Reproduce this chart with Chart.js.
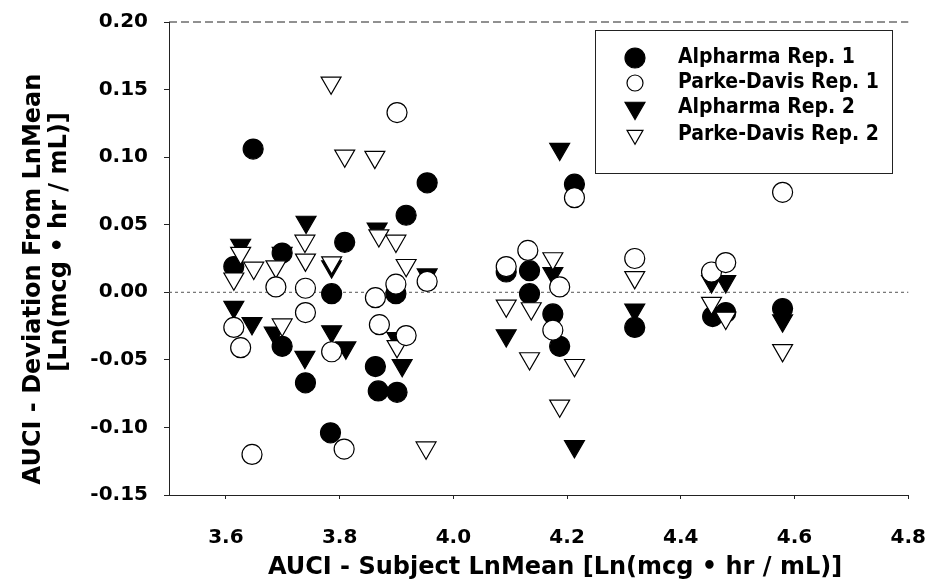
<!DOCTYPE html>
<html lang="en">
<head>
  <meta charset="UTF-8">
  <title>AUCI deviation from LnMean</title>
  <script src="https://cdn.jsdelivr.net/npm/chart.js@4.4.1/dist/chart.umd.min.js"></script>
  <style>
    body {
      margin: 0;
      background-color: #fff;
    }
    .chart-container {
      width: 931px;
      height: 586px;
    }
  </style>
</head>
<body>
  <div class="chart-container">
    <canvas id="devChart" width="931" height="586"></canvas>
  </div>
  <script>
    // values
    const alpharma1X = [3.648, 3.614, 3.699, 3.786, 3.809, 3.699, 3.740, 3.784, 3.863, 3.868, 3.901, 3.954, 3.917, 3.899,
      4.093, 4.134, 4.134, 4.175, 4.187, 4.213, 4.319, 4.456, 4.479, 4.579];
    const alpharma1Y = [0.106, 0.019, 0.029, -0.001, 0.037, -0.040, -0.067, -0.104, -0.055, -0.073, -0.074, 0.081, 0.057, -0.001,
      0.015, 0.016, -0.001, -0.016, -0.040, 0.080, -0.026, -0.018, -0.015, -0.012];

    const parke1X = [3.614, 3.626, 3.688, 3.740, 3.740, 3.786, 3.863, 3.870, 3.808, 3.646, 3.901, 3.954, 3.899, 3.917,
      4.093, 4.131, 4.187, 4.175, 4.213, 4.319, 4.454, 4.479, 4.579];
    const parke1Y = [-0.026, -0.041, 0.004, 0.003, -0.015, -0.044, -0.004, -0.024, -0.116, -0.120, 0.133, 0.008, 0.006, -0.032,
      0.019, 0.031, 0.004, -0.028, 0.070, 0.025, 0.015, 0.022, 0.074];

    const alpharma2X = [3.626, 3.741, 3.866, 3.786, 3.699, 3.614, 3.646, 3.685, 3.739, 3.786, 3.811, 3.901, 3.910, 3.954,
      4.187, 4.175, 4.093, 4.213, 4.319, 4.454, 4.479, 4.579];
    const alpharma2Y = [0.035, 0.052, 0.047, 0.019, 0.029, -0.011, -0.023, -0.030, -0.048, -0.029, -0.041, -0.034, -0.054, 0.013,
      0.106, 0.014, -0.032, -0.114, -0.013, 0.008, 0.008, -0.021];

    const parke2X = [3.785, 3.809, 3.862, 3.739, 3.626, 3.614, 3.649, 3.688, 3.740, 3.786, 3.869, 3.899, 3.917, 3.699, 3.901, 3.952,
      4.093, 4.137, 4.175, 4.134, 4.213, 4.187, 4.319, 4.454, 4.479, 4.579];
    const parke2Y = [0.155, 0.101, 0.100, 0.038, 0.029, 0.010, 0.018, 0.019, 0.024, 0.022, 0.042, 0.038, 0.020, -0.024, -0.040, -0.115,
      -0.010, -0.012, 0.025, -0.049, -0.054, -0.084, 0.011, -0.008, -0.019, -0.043];

    const seriesNames = ["Alpharma Rep. 1", "Parke-Davis Rep. 1", "Alpharma Rep. 2", "Parke-Davis Rep. 2"];
    const xTicks = [3.6, 3.8, 4.0, 4.2, 4.4, 4.6, 4.8];
    const yTicks = [-0.15, -0.10, -0.05, 0.00, 0.05, 0.10, 0.15, 0.20];
    const xTitle = "AUCI - Subject LnMean [Ln(mcg \u2022 hr / mL)]";
    const yTitle = ["AUCI - Deviation From LnMean", "[Ln(mcg \u2022 hr / mL)]"];

    const FONT = "'DejaVu Sans', sans-serif";
    const LEGEND_FONT = "'DejaVu Sans Condensed', 'DejaVu Sans', sans-serif";

    function toPoints(xs, ys) {
      return xs.map((x, i) => ({ x: x, y: ys[i] }));
    }

    // marker styles per series (same order as seriesNames)
    const markers = [
      { pointStyle: "circle", radius: 10, rotation: 0, fill: "#000" },
      { pointStyle: "circle", radius: 10, rotation: 0, fill: "#fff" },
      { pointStyle: "triangle", radius: 11.5, rotation: 180, fill: "#000" },
      { pointStyle: "triangle", radius: 11.5, rotation: 180, fill: "#fff" }
    ];
    const seriesData = [
      toPoints(alpharma1X, alpharma1Y),
      toPoints(parke1X, parke1Y),
      toPoints(alpharma2X, alpharma2Y),
      toPoints(parke2X, parke2Y)
    ];
    // open markers drawn on top
    const drawOrder = [3, 0, 2, 1];

    const datasets = seriesNames.map((name, i) => ({
      label: name,
      data: seriesData[i],
      order: drawOrder[i],
      pointStyle: markers[i].pointStyle,
      pointRadius: markers[i].radius,
      pointRotation: markers[i].rotation,
      pointBackgroundColor: markers[i].fill,
      pointBorderColor: "#000",
      pointBorderWidth: 1.2,
      showLine: false
    }));

    // zero line, top frame, axis titles and the boxed legend
    const extras = {
      id: "extras",
      beforeDatasetsDraw(chart) {
        const ctx = chart.ctx;
        const area = chart.chartArea;
        const y0 = chart.scales.y.getPixelForValue(0);
        const yTop = chart.scales.y.getPixelForValue(0.2);
        ctx.save();
        ctx.strokeStyle = "#555";
        ctx.lineWidth = 1;
        ctx.setLineDash([3, 3]);
        ctx.beginPath();
        ctx.moveTo(area.left, y0);
        ctx.lineTo(area.right, y0);
        ctx.stroke();
        ctx.strokeStyle = "#222";
        ctx.setLineDash([8, 4]);
        ctx.beginPath();
        ctx.moveTo(area.left, yTop);
        ctx.lineTo(area.right, yTop);
        ctx.stroke();
        ctx.restore();
      },
      afterDraw(chart) {
        const ctx = chart.ctx;
        ctx.save();
        ctx.fillStyle = "#000";
        ctx.textAlign = "center";
        ctx.textBaseline = "middle";
        ctx.font = "bold 24px " + FONT;
        ctx.fillText(xTitle, 555, 568);

        ctx.save();
        ctx.translate(34, 279);
        ctx.rotate(-Math.PI / 2);
        ctx.fillText(yTitle[0], 0, 0);
        ctx.restore();
        ctx.save();
        ctx.translate(60, 242);
        ctx.rotate(-Math.PI / 2);
        ctx.fillText(yTitle[1], 0, 0);
        ctx.restore();

        // legend box
        ctx.fillStyle = "#fff";
        ctx.fillRect(595, 30, 297, 143);
        ctx.strokeStyle = "#222";
        ctx.lineWidth = 1;
        ctx.strokeRect(595.5, 30.5, 297, 143);
        const rowY = [58, 83, 108, 135];
        ctx.textAlign = "left";
        ctx.font = "bold 21px " + LEGEND_FONT;
        seriesNames.forEach((name, i) => {
          ctx.fillStyle = markers[i].fill;
          ctx.strokeStyle = "#000";
          ctx.lineWidth = 1.2;
          Chart.helpers.drawPoint(ctx, {
            pointStyle: markers[i].pointStyle,
            radius: i % 2 === 0 ? markers[i].radius : markers[i].radius * 0.8,
            rotation: markers[i].rotation,
            borderWidth: 1.2
          }, 635, rowY[i]);
          ctx.fillStyle = "#000";
          ctx.fillText(name, 678, rowY[i]);
        });
        ctx.restore();
      }
    };

    const ctx = document.getElementById("devChart").getContext("2d");
    const devChart = new Chart(ctx, {
      type: "scatter",
      data: { datasets: datasets },
      plugins: [extras],
      options: {
        responsive: false,
        animation: false,
        layout: { padding: 0 },
        plugins: {
          legend: { display: false },
          tooltip: { enabled: false }
        },
        scales: {
          x: {
            type: "linear",
            min: 3.5,
            max: 4.8,
            afterFit(scale) { scale.height = 91; },
            afterBuildTicks(scale) { scale.ticks = xTicks.map(v => ({ value: v })); },
            grid: { drawOnChartArea: false, drawTicks: true, tickLength: 4, color: "#222" },
            border: { color: "#222", width: 1 },
            ticks: {
              color: "#000",
              padding: 5,
              maxRotation: 0,
              // tall line box pushes the labels down without widening the right padding
              font: { family: FONT, size: 20, weight: "bold", lineHeight: 3.4 },
              callback: v => v.toFixed(1)
            }
          },
          y: {
            type: "linear",
            min: -0.15,
            max: 0.20,
            afterFit(scale) { scale.width = 169; },
            afterBuildTicks(scale) { scale.ticks = yTicks.map(v => ({ value: v })); },
            grid: { drawOnChartArea: false, drawTicks: true, tickLength: 5, color: "#222" },
            border: { color: "#222", width: 1 },
            ticks: {
              color: "#000",
              padding: 16,
              font: { family: FONT, size: 20, weight: "bold", lineHeight: 0.6 },
              callback: v => v.toFixed(2)
            }
          }
        }
      }
    });
  </script>
</body>
</html>
